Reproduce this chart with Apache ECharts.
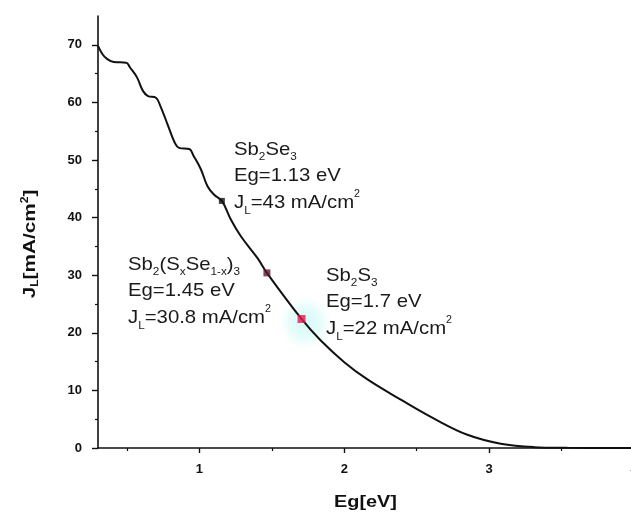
<!DOCTYPE html>
<html><head><meta charset="utf-8">
<script src="https://cdn.jsdelivr.net/npm/echarts@6/dist/echarts.min.js"></script>
<style>html,body{margin:0;padding:0;background:#fff}#c{width:631px;height:517px}</style>
</head><body><div id="c"></div>
<script>
// ---- data ----
const curveEg = [0.30,0.33,0.36,0.41,0.495,0.52,0.57,0.61,0.645,0.70,0.73,0.78,0.83,0.86,0.93,0.96,1.01,1.055,1.10,1.155,1.216,1.285,1.40,1.466,1.705,1.836,2.00,2.16,2.39,2.62,2.85,3.08,3.31,3.54,3.80,4.00];
const curveJ  = [69.8,68.4,67.6,67.0,66.9,66.1,64.3,62.0,61.1,60.8,59.4,56.2,53.0,52.1,51.9,50.7,48.4,45.5,44.0,42.9,39.7,36.8,33.0,30.4,22.4,18.7,14.9,11.9,8.4,5.1,2.3,0.75,0.15,0.03,0,0];
const markerNames = ['Sb2Se3','Sb2(SxSe1-x)3','Sb2S3'];
const markerEg = [1.155, 1.466, 1.705];
const markerJ  = [42.9, 30.4, 22.4];
const xTicks = [1,2,3,4];
const xMinorTicks = [0.5,1.5,2.5,3.5];
const yTicks = [0,10,20,30,40,50,60,70];
const yMinorTicks = [5,15,25,35,45,55,65];

// ---- styles ----
const markerColors = ['#111111','#5c1a2e','#e3184f'];
const markerSizes = [6,7,8];
const INK = '#111';
const FONT = 'Liberation Sans, Arial, sans-serif';

const chart = echarts.init(document.getElementById('c'), null, {renderer:'canvas'});
const axisCommon = {type:'value', splitLine:{show:false}};
chart.setOption({
  animation:false,
  backgroundColor:'#fff',
  grid:{left:98, top:16, width:536, height:432, outerBoundsMode:'none', containLabel:false},
  xAxis:[
    Object.assign({}, axisCommon, {min:0.3, max:4, position:'bottom',
      axisLine:{show:true, onZero:false, lineStyle:{color:INK, width:1.6}},
      axisTick:{show:true, customValues:xTicks, length:5, lineStyle:{color:INK, width:1.4}},
      axisLabel:{show:true, customValues:xTicks, showMaxLabel:true, hideOverlap:false, color:INK, fontWeight:'bold', fontSize:13, fontFamily:FONT, margin:15}}),
    Object.assign({}, axisCommon, {min:0.3, max:4, position:'bottom',
      axisLine:{show:false},
      axisTick:{show:true, customValues:xMinorTicks, length:3, lineStyle:{color:INK, width:1.2}},
      axisLabel:{show:false}})
  ],
  yAxis:[
    Object.assign({}, axisCommon, {min:0, max:75, position:'left',
      axisLine:{show:true, onZero:false, lineStyle:{color:INK, width:1.6}},
      axisTick:{show:true, customValues:yTicks, length:6, lineStyle:{color:INK, width:1.4}},
      axisLabel:{show:true, customValues:yTicks, color:INK, fontWeight:'bold', fontSize:13, fontFamily:FONT, margin:16}}),
    Object.assign({}, axisCommon, {min:0, max:75, position:'left',
      axisLine:{show:false},
      axisTick:{show:true, customValues:yMinorTicks, length:3, lineStyle:{color:INK, width:1.2}},
      axisLabel:{show:false}})
  ],
  series:[
    {type:'line', xAxisIndex:0, yAxisIndex:0, z:3,
     data: curveEg.map((x,i)=>[x, curveJ[i]]),
     showSymbol:false, smooth:0.4,
     lineStyle:{color:INK, width:2}},
    {type:'scatter', xAxisIndex:0, yAxisIndex:0, z:4, symbol:'rect',
     data: markerEg.map((x,i)=>({name:markerNames[i], value:[x, markerJ[i]],
        symbolSize:markerSizes[i], itemStyle:{color:markerColors[i]}}))}
  ]
});

// ---- annotations ----
const rich = {
  n:{fontSize:19, fontFamily:FONT, fill:'#1a1a1a', lineHeight:26.7},
  sb:{fontSize:11, fontFamily:FONT, fill:'#1a1a1a', lineHeight:8, verticalAlign:'bottom'},
  sp:{fontSize:10, fontFamily:FONT, fill:'#1a1a1a', lineHeight:16, verticalAlign:'top'}
};
const titleRich = {
  b:{fontSize:17, fontWeight:'bold', fontFamily:FONT, fill:INK, lineHeight:20},
  bs:{fontSize:10, fontWeight:'bold', fontFamily:FONT, fill:INK, lineHeight:6, verticalAlign:'bottom'},
  bp:{fontSize:10, fontWeight:'bold', fontFamily:FONT, fill:INK, lineHeight:12, verticalAlign:'top'}
};
const p3 = chart.convertToPixel({gridIndex:0}, [markerEg[2], markerJ[2]]);
function ann(text, x, y){
  return {type:'text', x:x, y:y, scaleX:1.07, z:10,
    style:{text:text, rich:rich, align:'left', verticalAlign:'top', fill:'#1a1a1a', font:'19px '+FONT}};
}
chart.setOption({graphic:[
  {type:'circle', z:0, shape:{cx:p3[0]+4, cy:p3[1]+4, r:27},
   style:{fill:{type:'radial', x:0.5, y:0.5, r:0.5, colorStops:[
     {offset:0, color:'rgba(200,250,245,0.85)'},{offset:0.6, color:'rgba(212,251,248,0.55)'},{offset:1, color:'rgba(230,253,251,0)'}]}}},
  ann('{n|Sb}{sb|2}{n|Se}{sb|3}\n{n|Eg=1.13 eV}\n{n|J}{sb|L}{n|=43 mA/cm}{sp|2}', 234, 136),
  ann('{n|Sb}{sb|2}{n|(S}{sb|x}{n|Se}{sb|1-x}{n|)}{sb|3}\n{n|Eg=1.45 eV}\n{n|J}{sb|L}{n|=30.8 mA/cm}{sp|2}', 128, 251),
  ann('{n|Sb}{sb|2}{n|S}{sb|3}\n{n|Eg=1.7 eV}\n{n|J}{sb|L}{n|=22 mA/cm}{sp|2}', 326, 262),
  {type:'text', x:30, y:244, rotation:Math.PI/2, scaleX:1.22, z:10,
   style:{text:'{b|J}{bs|L}{b|[mA/cm}{bp|2}{b|]}', rich:titleRich, align:'center', verticalAlign:'middle', fill:INK}},
  {type:'text', x:365.5, y:503, scaleX:1.24, z:10,
   style:{text:'Eg[eV]', align:'center', verticalAlign:'middle', fill:INK, font:'bold 16px '+FONT}}
]});
</script>
</body></html>
